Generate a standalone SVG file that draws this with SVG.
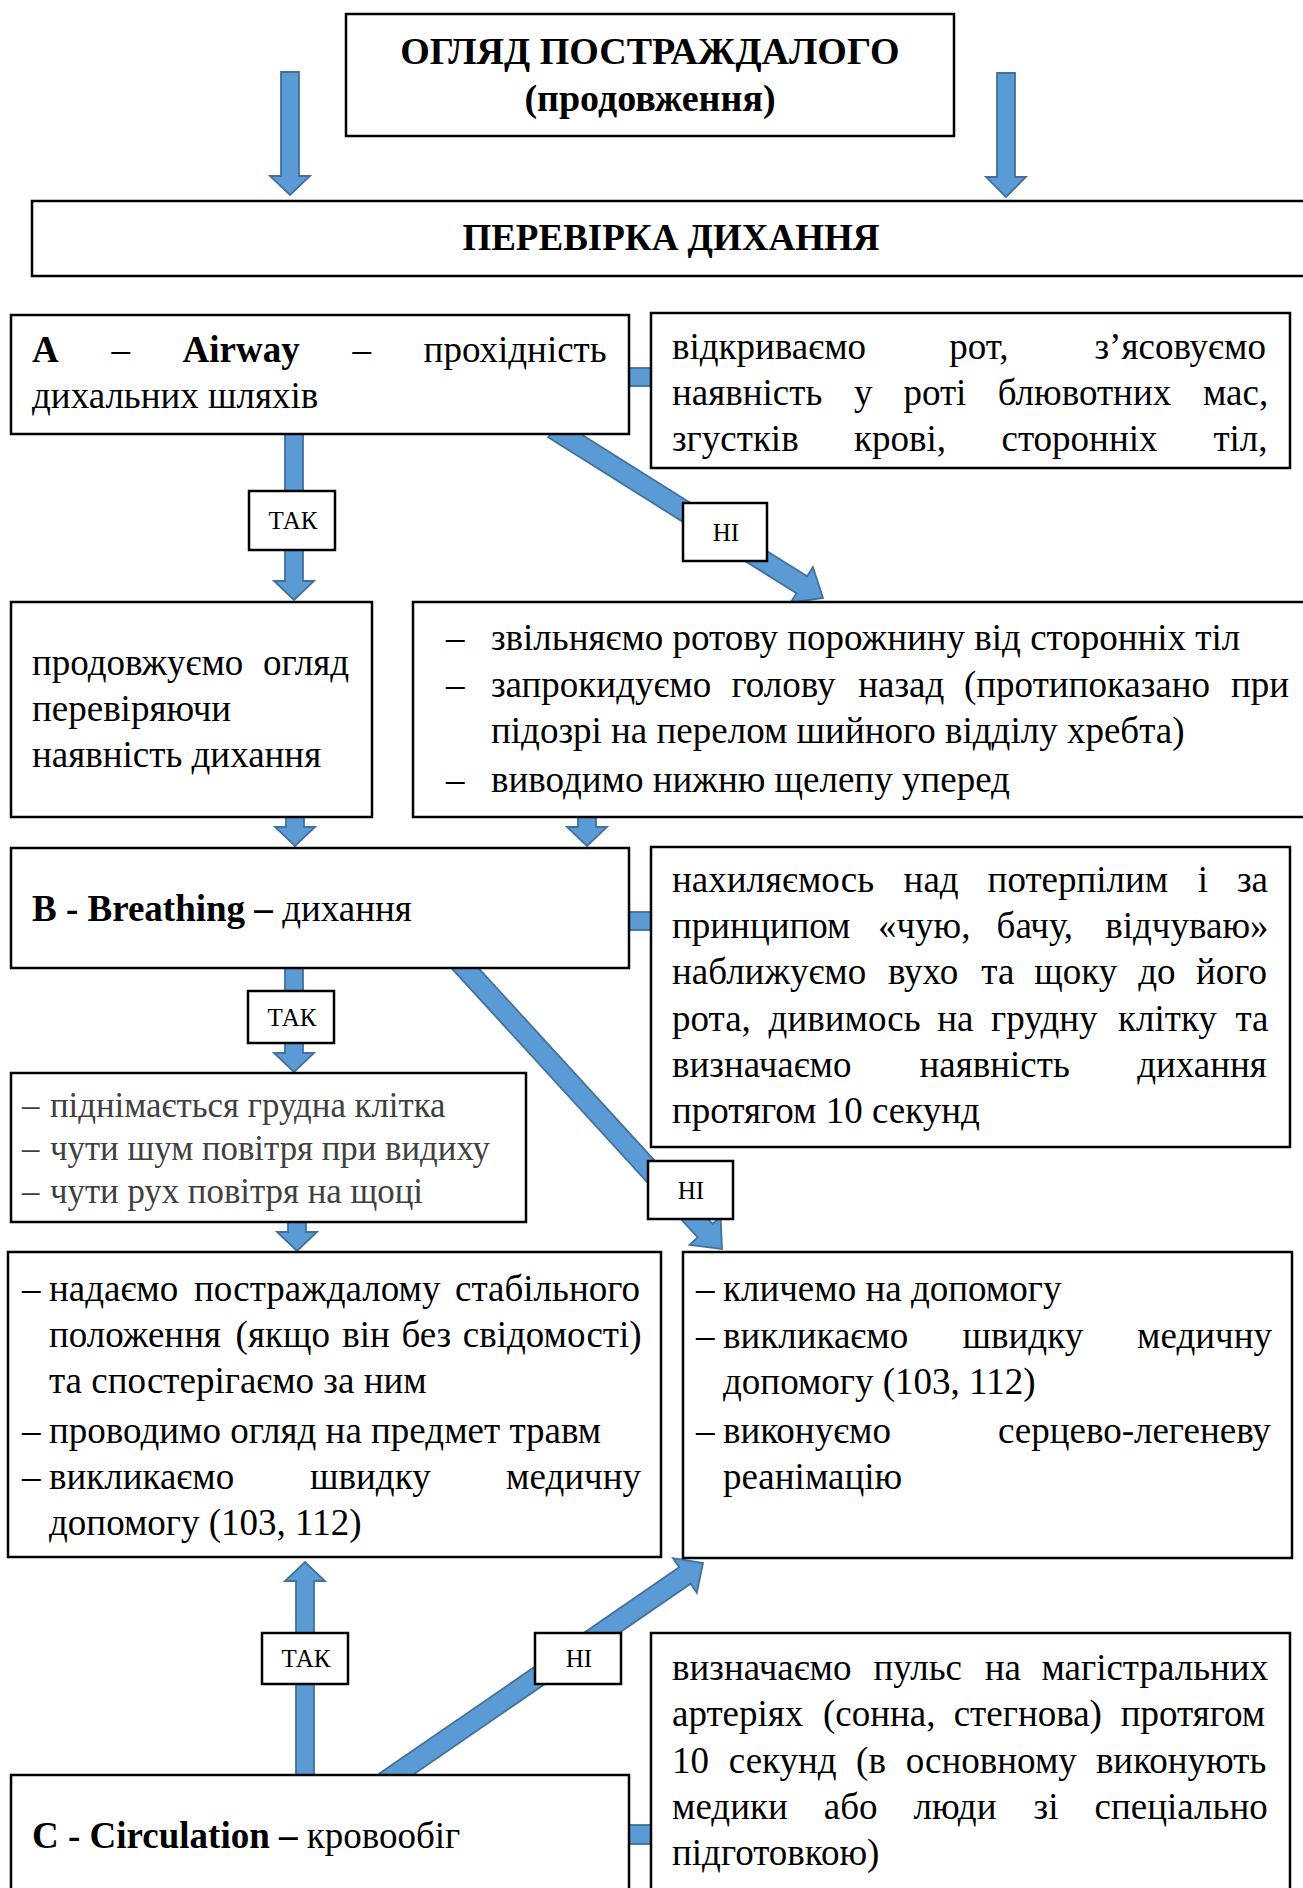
<svg xmlns="http://www.w3.org/2000/svg" width="1303" height="1888" viewBox="0 0 1303 1888">
<style>
.box{fill:#fff;stroke:#000;stroke-width:2.5}
.arr{fill:#5B9BD5;stroke:#41719C;stroke-width:1.8;stroke-linejoin:miter}
.t{font-family:"Liberation Serif","Times New Roman",serif;font-size:37px;fill:#000}
.b{font-weight:bold}
.h{font-size:38px}
.g{font-size:34.8px;fill:#404040}
.lbl{font-size:25px;text-anchor:middle}
.c{text-anchor:middle}
</style>
<rect width="1303" height="1888" fill="#fff"/>
<g id="connectors">
<polygon class="arr" points="281,72 299,72 299,176 310,176 290,195 270,176 281,176"/>
<polygon class="arr" points="997,73 1015,73 1015,177 1026,177 1006,197 986,177 997,177"/>
<polygon class="arr" points="285,425 303,425 303,581 314,581 294,600 274,581 285,581"/>
<polygon class="arr" points="548.2,437.2 796.5,593.3 790.7,602.6 823,598 812.9,567 807.1,576.3 558.8,420.2"/>
<rect class="arr" x="620" y="368" width="40" height="18"/>
<polygon class="arr" points="286,810 304,810 304,827 315,827 295,846 275,827 286,827"/>
<polygon class="arr" points="578,810 596,810 596,827 607,827 587,846 567,827 578,827"/>
<rect class="arr" x="620" y="912" width="40" height="18"/>
<polygon class="arr" points="285,960 303,960 303,1053 314,1053 294,1072 274,1053 285,1053"/>
<polygon class="arr" points="448.5,964.9 697.7,1237.4 689.6,1244.8 722,1249 720.6,1216.4 712.5,1223.9 463.3,951.4"/>
<polygon class="arr" points="288,1215 306,1215 306,1232 317,1232 297,1251 277,1232 288,1232"/>
<polygon class="arr" points="296,1785 314,1785 314,1581 325,1581 305,1562 285,1581 296,1581"/>
<polygon class="arr" points="390.8,1790 690.6,1583.7 696.8,1592.8 703,1563 673,1558.2 679.2,1567.3 379.4,1773.6"/>
<rect class="arr" x="620" y="1825" width="40" height="19"/>
</g>
<g id="title">
<rect class="box" x="346" y="14" width="608" height="122"/>
<text class="t b c h" x="650" y="64">ОГЛЯД ПОСТРАЖДАЛОГО</text>
<text class="t b c h" x="650" y="111">(продовження)</text>
</g>
<g id="check-breathing">
<rect class="box" x="32" y="201" width="1290" height="75"/>
<text class="t b c" x="671" y="250">ПЕРЕВІРКА ДИХАННЯ</text>
</g>
<g id="airway">
<rect class="box" x="11" y="315" width="618" height="119"/>
<text class="t" y="362"><tspan x="32" class="b">A</tspan> <tspan x="111.4">–</tspan> <tspan x="182.6" class="b">Airway</tspan> <tspan x="352.4">–</tspan> <tspan x="423.6">прохідність</tspan></text>
<text class="t" x="32" y="408">дихальних шляхів</text>
</g>
<g id="airway-note">
<rect class="box" x="651" y="313" width="639" height="155"/>
<text class="t" y="359"><tspan x="672">відкриваємо</tspan> <tspan x="949.3">рот,</tspan> <tspan x="1094.5">з’ясовуємо</tspan></text>
<text class="t" y="405"><tspan x="672">наявність</tspan> <tspan x="854.1">у</tspan> <tspan x="903.4">роті</tspan> <tspan x="997.7">блювотних</tspan> <tspan x="1202.9">мас,</tspan></text>
<text class="t" y="451"><tspan x="672">згустків</tspan> <tspan x="854.1">крові,</tspan> <tspan x="1001.5">сторонніх</tspan> <tspan x="1213.4">тіл,</tspan></text>
</g>
<g id="label-yes-1">
<rect class="box" x="249" y="491" width="86" height="59"/>
<text class="t lbl" x="293" y="529">ТАК</text>
</g>
<g id="label-no-1">
<rect class="box" x="683" y="503" width="84" height="58"/>
<text class="t lbl" x="726" y="541">НІ</text>
</g>
<g id="continue">
<rect class="box" x="11" y="602" width="361" height="215"/>
<text class="t" y="675"><tspan x="32">продовжуємо</tspan> <tspan x="263">огляд</tspan></text>
<text class="t" x="32" y="721">перевіряючи</text>
<text class="t" x="32" y="767">наявність дихання</text>
</g>
<g id="clear-airway">
<rect class="box" x="413" y="602" width="900" height="215"/>
<text class="t" y="650"><tspan x="446">–</tspan> <tspan x="491">звільняємо ротову порожнину від сторонніх тіл</tspan></text>
<text class="t" y="697"><tspan x="446">–</tspan> <tspan x="491">запрокидуємо</tspan> <tspan x="731.6">голову</tspan> <tspan x="858.2">назад</tspan> <tspan x="964">(протипоказано</tspan> <tspan x="1231">при</tspan></text>
<text class="t" x="491" y="743">підозрі на перелом шийного відділу хребта)</text>
<text class="t" y="792"><tspan x="446">–</tspan> <tspan x="491">виводимо нижню щелепу уперед</tspan></text>
</g>
<g id="breathing">
<rect class="box" x="11" y="848" width="618" height="120"/>
<text class="t" x="32" y="921"><tspan class="b">B - Breathing –</tspan> дихання</text>
</g>
<g id="breathing-note">
<rect class="box" x="651" y="847" width="639" height="300"/>
<text class="t" y="892"><tspan x="672">нахиляємось</tspan> <tspan x="903.6">над</tspan> <tspan x="987.6">потерпілим</tspan> <tspan x="1197.7">і</tspan> <tspan x="1237">за</tspan></text>
<text class="t" y="938"><tspan x="672">принципом</tspan> <tspan x="877.9">«чую,</tspan> <tspan x="996.6">бачу,</tspan> <tspan x="1105.3">відчуваю»</tspan></text>
<text class="t" y="984"><tspan x="672">наближуємо</tspan> <tspan x="887.9">вухо</tspan> <tspan x="981.3">та</tspan> <tspan x="1034.3">щоку</tspan> <tspan x="1138.2">до</tspan> <tspan x="1195.9">його</tspan></text>
<text class="t" y="1031"><tspan x="672">рота,</tspan> <tspan x="768.6">дивимось</tspan> <tspan x="937.2">на</tspan> <tspan x="991.1">грудну</tspan> <tspan x="1118">клітку</tspan> <tspan x="1235.4">та</tspan></text>
<text class="t" y="1077"><tspan x="672">визначаємо</tspan> <tspan x="919.5">наявність</tspan> <tspan x="1137.2">дихання</tspan></text>
<text class="t" x="672" y="1123">протягом 10 секунд</text>
</g>
<g id="label-yes-2">
<rect class="box" x="248" y="991" width="86" height="52"/>
<text class="t lbl" x="292" y="1026">ТАК</text>
</g>
<g id="signs">
<rect class="box" x="11" y="1073" width="515" height="149"/>
<text class="t g" y="1117"><tspan x="22">–</tspan> <tspan x="50">піднімається грудна клітка</tspan></text>
<text class="t g" y="1160"><tspan x="22">–</tspan> <tspan x="50">чути шум повітря при видиху</tspan></text>
<text class="t g" y="1203"><tspan x="22">–</tspan> <tspan x="50">чути рух повітря на щоці</tspan></text>
</g>
<g id="label-no-2">
<rect class="box" x="648" y="1161" width="85" height="58"/>
<text class="t lbl" x="691" y="1199">НІ</text>
</g>
<g id="stable">
<rect class="box" x="8" y="1252" width="653" height="305"/>
<text class="t" y="1301"><tspan x="22">–</tspan> <tspan x="49">надаємо</tspan> <tspan x="194">постраждалому</tspan> <tspan x="455">стабільного</tspan></text>
<text class="t" y="1347"><tspan x="49">положення</tspan> <tspan x="235.6">(якщо</tspan> <tspan x="342.2">він</tspan> <tspan x="401.4">без</tspan> <tspan x="462.8">свідомості)</tspan></text>
<text class="t" x="49" y="1393">та спостерігаємо за ним</text>
<text class="t" y="1443"><tspan x="22">–</tspan> <tspan x="49">проводимо огляд на предмет травм</tspan></text>
<text class="t" y="1489"><tspan x="22">–</tspan> <tspan x="49">викликаємо</tspan> <tspan x="310.1">швидку</tspan> <tspan x="506.1">медичну</tspan></text>
<text class="t" x="49" y="1535">допомогу (103, 112)</text>
</g>
<g id="cpr">
<rect class="box" x="683" y="1252" width="609" height="306"/>
<text class="t" y="1301"><tspan x="696">–</tspan> <tspan x="723">кличемо на допомогу</tspan></text>
<text class="t" y="1348"><tspan x="696">–</tspan> <tspan x="723">викликаємо</tspan> <tspan x="962.6">швидку</tspan> <tspan x="1137.1">медичну</tspan></text>
<text class="t" x="723" y="1394">допомогу (103, 112)</text>
<text class="t" y="1443"><tspan x="696">–</tspan> <tspan x="723">виконуємо</tspan> <tspan x="997.9">серцево-легеневу</tspan></text>
<text class="t" x="723" y="1489">реанімацію</text>
</g>
<g id="label-yes-3">
<rect class="box" x="262" y="1633" width="86" height="51"/>
<text class="t lbl" x="306" y="1667">ТАК</text>
</g>
<g id="label-no-3">
<rect class="box" x="535" y="1633" width="86" height="51"/>
<text class="t lbl" x="579" y="1667">НІ</text>
</g>
<g id="circulation">
<rect class="box" x="11" y="1775" width="618" height="130"/>
<text class="t" x="32" y="1848"><tspan class="b">C - Circulation –</tspan> кровообіг</text>
</g>
<g id="circulation-note">
<rect class="box" x="651" y="1633" width="639" height="270"/>
<text class="t" y="1680"><tspan x="672">визначаємо</tspan> <tspan x="873.5">пульс</tspan> <tspan x="984.7">на</tspan> <tspan x="1041.4">магістральних</tspan></text>
<text class="t" y="1726"><tspan x="672">артеріях</tspan> <tspan x="822.9">(сонна,</tspan> <tspan x="953.7">стегнова)</tspan> <tspan x="1120.7">протягом</tspan></text>
<text class="t" y="1773"><tspan x="672">10</tspan> <tspan x="728.8">секунд</tspan> <tspan x="856.1">(в</tspan> <tspan x="905.7">основному</tspan> <tspan x="1095.9">виконують</tspan></text>
<text class="t" y="1819"><tspan x="672">медики</tspan> <tspan x="823.8">або</tspan> <tspan x="913.6">люди</tspan> <tspan x="1033.6">зі</tspan> <tspan x="1094.6">спеціально</tspan></text>
<text class="t" x="672" y="1865">підготовкою)</text>
</g>
</svg>
